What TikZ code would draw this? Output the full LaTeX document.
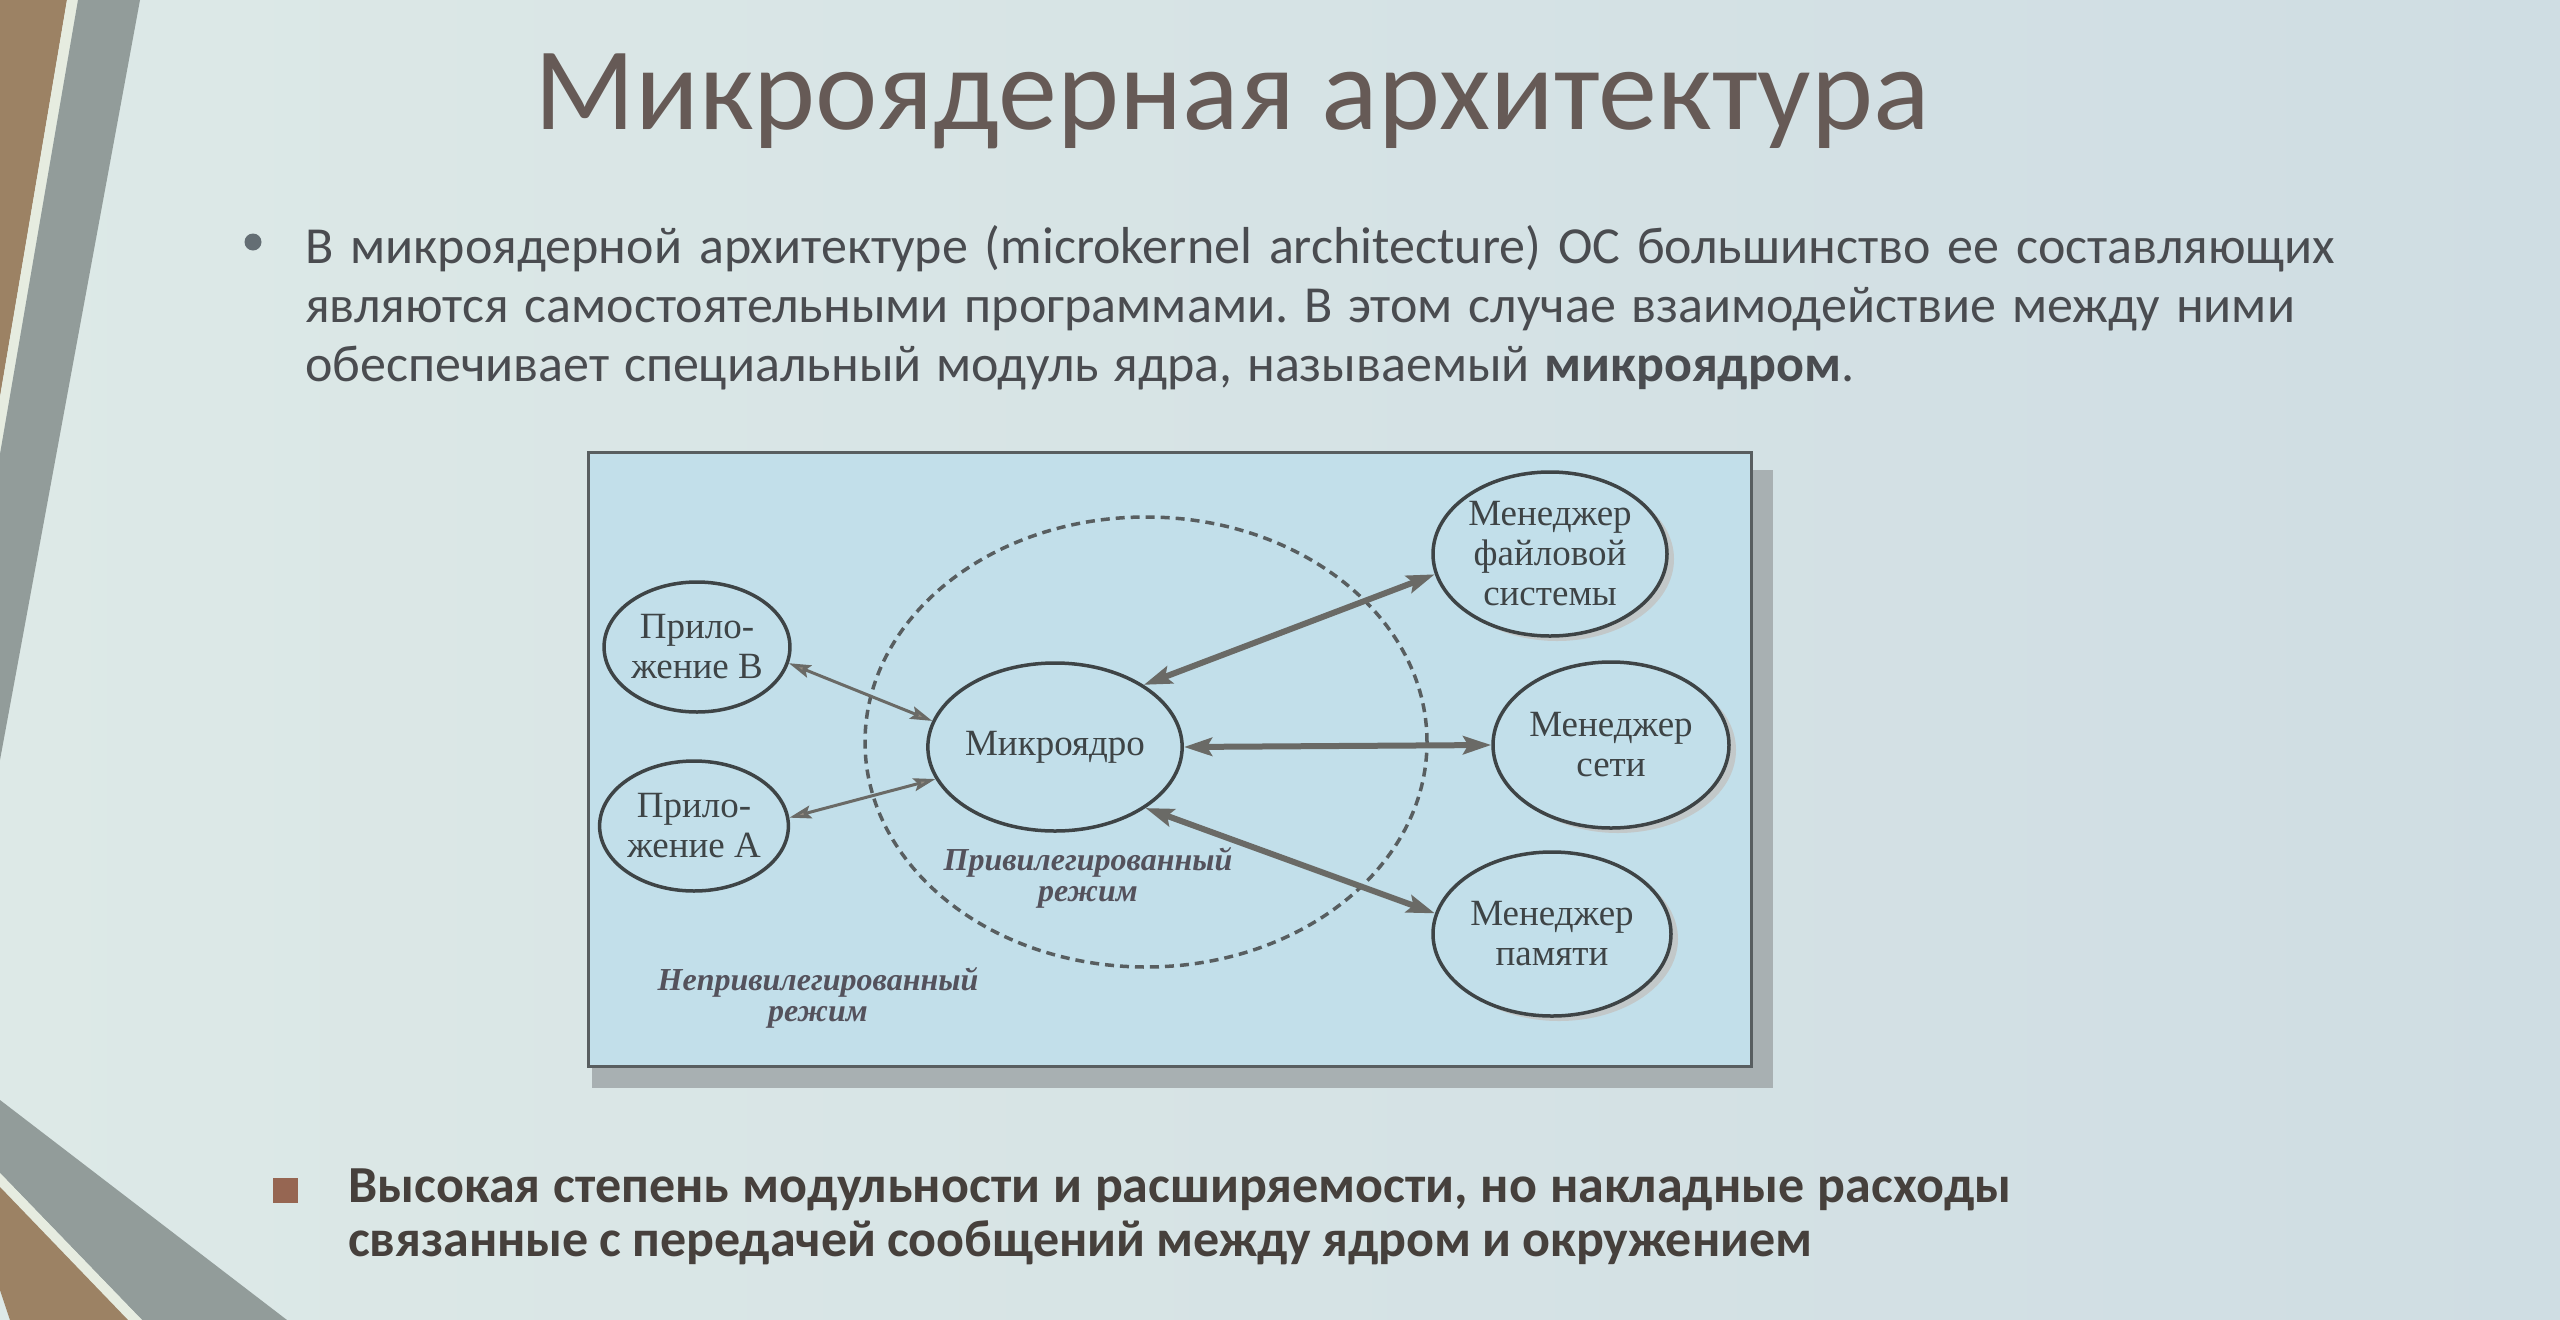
\documentclass[tikz,border=0pt]{standalone}
\usepackage{fontspec}
\setmainfont{Carlito}
\newfontfamily\bookserif{Liberation Serif}
\usetikzlibrary{shapes.geometric,arrows.meta}
\frenchspacing

\definecolor{slidebgL}{RGB}{221,233,231}
\definecolor{slidebgR}{RGB}{207,221,227}
\definecolor{stripebrown}{RGB}{156,130,100}
\definecolor{stripegray}{RGB}{146,156,154}
\definecolor{stripelight}{RGB}{230,236,224}
\definecolor{titlecol}{RGB}{102,90,86}
\definecolor{bodycol}{RGB}{74,76,80}
\definecolor{boldcol}{RGB}{70,64,60}
\definecolor{boxfill}{RGB}{194,223,234}
\definecolor{boxline}{RGB}{88,94,96}
\definecolor{boxshadow}{RGB}{168,176,178}
\definecolor{inkcol}{RGB}{62,68,70}
\definecolor{italcol}{RGB}{84,82,92}
\definecolor{arrowline}{RGB}{106,106,102}
\definecolor{arrowhead}{RGB}{146,138,128}
\definecolor{bulletsq}{RGB}{150,102,82}
\definecolor{bulletdot}{RGB}{100,110,116}

\tikzset{
  bodyline/.style={anchor=base west, inner sep=0pt, text=bodycol,
    font=\fontsize{52}{60}\selectfont},
  boldline/.style={anchor=base west, inner sep=0pt, text=boldcol,
    font=\bfseries\fontsize{52}{58}\selectfont},
  proc/.style={ellipse, draw=inkcol, line width=3.5pt, fill=boxfill,
    inner sep=0pt, align=center, text=inkcol,
    font=\bookserif\fontsize{37}{40}\selectfont},
  procshadow/.style={ellipse, fill=boxshadow!70, inner sep=0pt},
  modelabel/.style={align=center, text=italcol, inner sep=0pt,
    font=\bookserif\bfseries\itshape\fontsize{32}{31}\selectfont},
  link/.style={draw=arrowline, line width=3pt, {Stealth[length=22pt, width=13pt, inset=4pt, fill=arrowhead]}-{Stealth[length=22pt, width=13pt, inset=4pt, fill=arrowhead]}},
  biglink/.style={draw=arrowline, line width=6pt, {Stealth[length=28pt, width=18pt, inset=5pt, fill=arrowhead]}-{Stealth[length=28pt, width=18pt, inset=5pt, fill=arrowhead]}},
}

\begin{document}
\begin{tikzpicture}[x=1pt,y=-1pt]
\useasboundingbox (0,0) rectangle (2560,1320);

% slide background
\shade[left color=slidebgL, right color=slidebgR] (0,0) rectangle (2560,1320);

% corner stripes, top left
\fill[stripebrown] (0,0) -- (67,0) -- (0,397) -- cycle;
\fill[stripelight] (67,0) -- (78,0) -- (0,454) -- (0,397) -- cycle;
\fill[stripegray] (78,0) -- (140,0) -- (0,760) -- (0,454) -- cycle;

% corner stripes, bottom left
\fill[stripegray] (0,1100) -- (287,1320) -- (142,1320) -- (0,1173) -- cycle;
\fill[stripelight] (0,1173) -- (142,1320) -- (128,1320) -- (0,1187) -- cycle;
\fill[stripebrown] (0,1187) -- (128,1320) -- (10,1320) -- (0,1290) -- cycle;

% title
\node[anchor=base, inner sep=0pt, text=titlecol,
      font=\fontsize{118}{122}\selectfont] (title) at (1232,129)
      {Микроядерная архитектура};

% first bullet
\node[circle, fill=bulletdot, minimum size=17pt, inner sep=0pt] (dot1) at (253,242) {};
\node[bodyline] (l1) at (305,263)
  {\makebox[2030pt][s]{В микроядерной архитектуре (microkernel architecture) ОС большинство ее составляющих}};
\node[bodyline] (l2) at (305,322)
  {\makebox[1990pt][s]{являются самостоятельными программами. В этом случае взаимодействие между ними}};
\node[bodyline] (l3) at (305,381)
  {\makebox[1549pt][s]{обеспечивает специальный модуль ядра, называемый \textbf{микроядром}.}};

% diagram frame with its shadow
\fill[boxshadow] (592,470) rectangle (1773,1088);
\draw[boxline, line width=3pt, fill=boxfill] (588,452) rectangle (1751,1066);

% privileged mode region
\node[ellipse, draw=boxline, line width=3.5pt, dash pattern=on 9pt off 6pt,
      minimum width=562pt, minimum height=450pt, inner sep=0pt] (priv) at (1146,742) {};

% shadows behind the manager ellipses
\node[procshadow, minimum width=234pt, minimum height=164pt] (fsmsh) at (1557,559) {};
\node[procshadow, minimum width=236pt, minimum height=166pt] (netsh) at (1618,750) {};
\node[procshadow, minimum width=238pt, minimum height=164pt] (memsh) at (1559,939) {};

% processes
\node[proc, minimum width=176pt, minimum height=130pt] (appB) at (697,647) {Прило-\\жение В};
\node[proc, minimum width=176pt, minimum height=130pt] (appA) at (694,826) {Прило-\\жение А};
\node[proc, minimum width=210pt, minimum height=168pt] (kern) at (1055,747) {Микроядро};
\node[proc, minimum width=234pt, minimum height=164pt] (fsm) at (1550,554) {Менеджер\\файловой\\системы};
\node[proc, minimum width=236pt, minimum height=166pt] (net) at (1611,745) {Менеджер\\сети};
\node[proc, minimum width=238pt, minimum height=164pt] (mem) at (1552,934) {Менеджер\\памяти};

% mode labels
\node[modelabel] (privlbl) at (1088,878) {Привилегированный\\режим};
\node[modelabel] (userlbl) at (818,998) {Непривилегированный\\режим};

% message paths
\draw[link] (appB.-10) -- (kern.168);
\draw[link] (appA.5) -- (kern.195);
\draw[biglink] (kern.35) -- (fsm.190);
\draw[biglink] (kern.east) -- (net.west);
\draw[biglink] (kern.-34) -- (mem.170);

% second bullet
\node[rectangle, fill=bulletsq, minimum size=25pt, inner sep=0pt] (sq) at (285,1190) {};
\node[boldline] (b1) at (348,1202)
  {\makebox[1663pt][s]{Высокая степень модульности и расширяемости, но накладные расходы}};
\node[boldline] (b2) at (348,1256)
  {\makebox[1464pt][s]{связанные с передачей сообщений между ядром и окружением}};

\end{tikzpicture}
\end{document}
